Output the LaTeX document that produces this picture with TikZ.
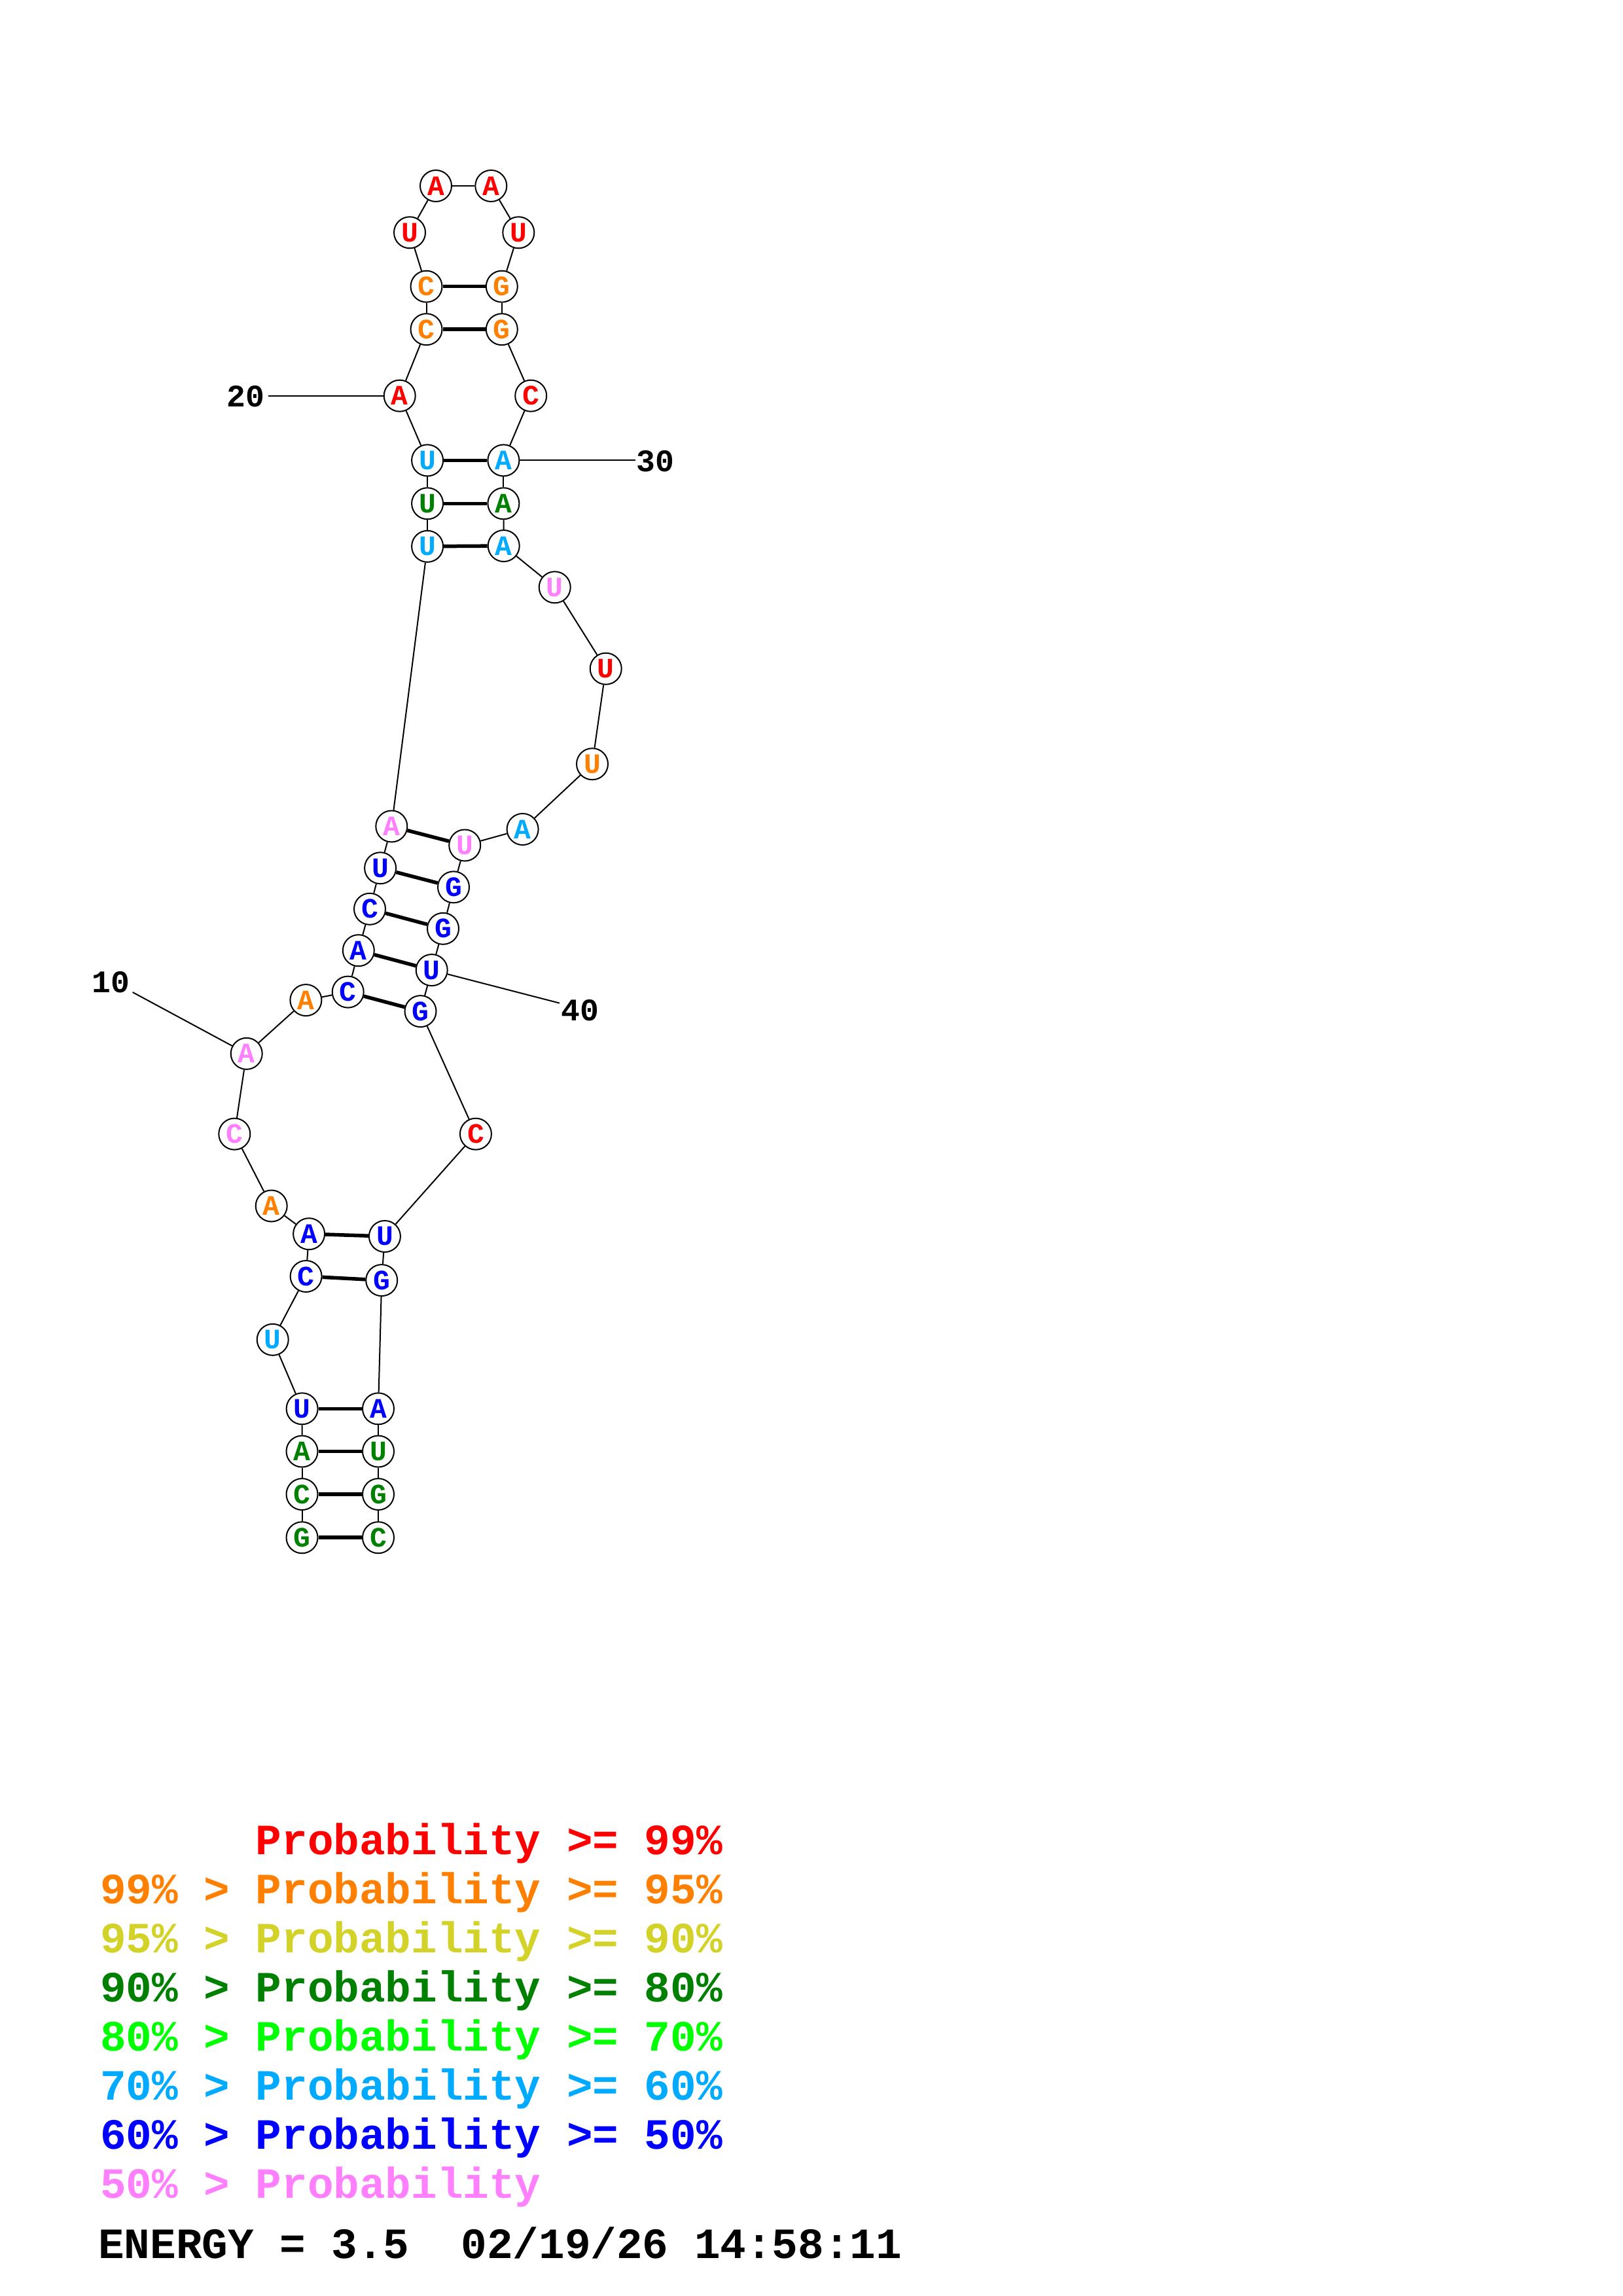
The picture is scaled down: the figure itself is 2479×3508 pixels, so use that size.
\documentclass[tikz,border=0pt]{standalone}
\usepackage{fontspec}
\newfontfamily\cour{Liberation Mono}
\definecolor{cR}{RGB}{255,0,0}
\definecolor{cO}{RGB}{255,128,0}
\definecolor{cY}{RGB}{210,210,40}
\definecolor{cG}{RGB}{0,128,0}
\definecolor{cL}{RGB}{0,255,0}
\definecolor{cC}{RGB}{0,170,255}
\definecolor{cB}{RGB}{0,0,255}
\definecolor{cP}{RGB}{255,128,255}
\tikzset{
  nt/.style={circle,draw=black,line width=2pt,fill=white,minimum size=48pt,inner sep=0pt,
    font=\cour\bfseries\fontsize{43}{50}\selectfont},
  bb/.style={line width=2pt},
  bp/.style={line width=5.5pt},
  lbl/.style={inner sep=0pt,font=\cour\bfseries\fontsize{48}{56}\selectfont},
  leg/.style={inner sep=0pt,anchor=base west,font=\cour\bfseries\fontsize{66}{75}\selectfont}
}
\begin{document}
\begin{tikzpicture}[x=1pt,y=-1pt]
\useasboundingbox (0,0) rectangle (2479,3508);
% nucleotides
\node[nt,text=cG] (n1) at (461.5,2349.2) {G};
\node[nt,text=cG] (n2) at (461.5,2283) {C};
\node[nt,text=cG] (n3) at (461.5,2217.5) {A};
\node[nt,text=cB] (n4) at (461.6,2152.3) {U};
\node[nt,text=cC] (n5) at (416.7,2046.8) {U};
\node[nt,text=cB] (n6) at (467.6,1950) {C};
\node[nt,text=cB] (n7) at (472.1,1885.2) {A};
\node[nt,text=cO] (n8) at (414.7,1842.5) {A};
\node[nt,text=cP] (n9) at (358.3,1732.6) {C};
\node[nt,text=cP] (n10) at (376.7,1609.8) {A};
\node[nt,text=cO] (n11) at (467.4,1528.1) {A};
\node[nt,text=cB] (n12) at (531.7,1515.6) {C};
\node[nt,text=cB] (n13) at (547.8,1452.2) {A};
\node[nt,text=cB] (n14) at (565,1388.8) {C};
\node[nt,text=cB] (n15) at (581.1,1326.3) {U};
\node[nt,text=cP] (n16) at (598.3,1262.5) {A};
\node[nt,text=cC] (n17) at (653.1,834.8) {U};
\node[nt,text=cG] (n18) at (653.1,769.3) {U};
\node[nt,text=cC] (n19) at (653.1,703.4) {U};
\node[nt,text=cR] (n20) at (610.7,604.7) {A};
\node[nt,text=cO] (n21) at (651.5,503.2) {C};
\node[nt,text=cO] (n22) at (651.5,437.7) {C};
\node[nt,text=cR] (n23) at (626,355.3) {U};
\node[nt,text=cR] (n24) at (666,284) {A};
\node[nt,text=cR] (n25) at (750.3,284) {A};
\node[nt,text=cR] (n26) at (792.3,355.3) {U};
\node[nt,text=cO] (n27) at (766.8,437.7) {G};
\node[nt,text=cO] (n28) at (766.8,503.2) {G};
\node[nt,text=cR] (n29) at (811.2,604.7) {C};
\node[nt,text=cC] (n30) at (769.4,703.4) {A};
\node[nt,text=cG] (n31) at (769.4,769.3) {A};
\node[nt,text=cC] (n32) at (769.7,834) {A};
\node[nt,text=cP] (n33) at (847.7,897.3) {U};
\node[nt,text=cR] (n34) at (925.7,1021.7) {U};
\node[nt,text=cO] (n35) at (905,1167.3) {U};
\node[nt,text=cC] (n36) at (798.6,1267) {A};
\node[nt,text=cP] (n37) at (710.2,1291.5) {U};
\node[nt,text=cB] (n38) at (693,1355.4) {G};
\node[nt,text=cB] (n39) at (677,1418.8) {G};
\node[nt,text=cB] (n40) at (659.7,1482.1) {U};
\node[nt,text=cB] (n41) at (642.5,1545.1) {G};
\node[nt,text=cR] (n42) at (726.9,1732.6) {C};
\node[nt,text=cB] (n43) at (587.9,1889) {U};
\node[nt,text=cB] (n44) at (583.2,1956.1) {G};
\node[nt,text=cB] (n45) at (578,2152.3) {A};
\node[nt,text=cG] (n46) at (578,2217.5) {U};
\node[nt,text=cG] (n47) at (578,2283) {G};
\node[nt,text=cG] (n48) at (578,2349.2) {C};
% backbone
\foreach \a/\b in {1/2,2/3,3/4,4/5,5/6,6/7,7/8,8/9,9/10,10/11,11/12,12/13,13/14,14/15,15/16,16/17,17/18,18/19,19/20,20/21,21/22,22/23,23/24,24/25,25/26,26/27,27/28,28/29,29/30,30/31,31/32,32/33,33/34,34/35,35/36,36/37,37/38,38/39,39/40,40/41,41/42,42/43,43/44,44/45,45/46,46/47,47/48}
  \draw[bb] (n\a) -- (n\b);
% base pairs
\foreach \a/\b in {1/48,2/47,3/46,4/45,6/44,7/43,12/41,13/40,14/39,15/38,16/37,17/32,18/31,19/30,21/28,22/27}
  \draw[bp] (n\a) -- (n\b);
% position labels
\node[lbl] (t10) at (169.7,1501) {10};
\coordinate (c10) at (202.7,1516);
\draw[bb] (c10) -- (n10);
\node[lbl] (t20) at (375.5,605.6) {20};
\coordinate (c20) at (409.7,604.7);
\draw[bb] (c20) -- (n20);
\node[lbl] (t30) at (1001.5,705) {30};
\coordinate (c30) at (970.9,703.4);
\draw[bb] (n30) -- (c30);
\node[lbl] (t40) at (886.4,1543.7) {40};
\coordinate (c40) at (854.9,1532.6);
\draw[bb] (n40) -- (c40);
% legend
\node[leg,text=cR] (g1) at (390.6,2833) {Probability >= 99\%};
\node[leg,text=cO] (g2) at (153,2908) {99\% > Probability >= 95\%};
\node[leg,text=cY] (g3) at (153,2983) {95\% > Probability >= 90\%};
\node[leg,text=cG] (g4) at (153,3058) {90\% > Probability >= 80\%};
\node[leg,text=cL] (g5) at (153,3133) {80\% > Probability >= 70\%};
\node[leg,text=cC] (g6) at (153,3208) {70\% > Probability >= 60\%};
\node[leg,text=cB] (g7) at (153,3283) {60\% > Probability >= 50\%};
\node[leg,text=cP] (g8) at (153,3358) {50\% > Probability};
\node[leg,text=black] (en) at (150,3450.5) {ENERGY = 3.5\ \ 02/19/26 14:58:11};
\end{tikzpicture}
\end{document}
